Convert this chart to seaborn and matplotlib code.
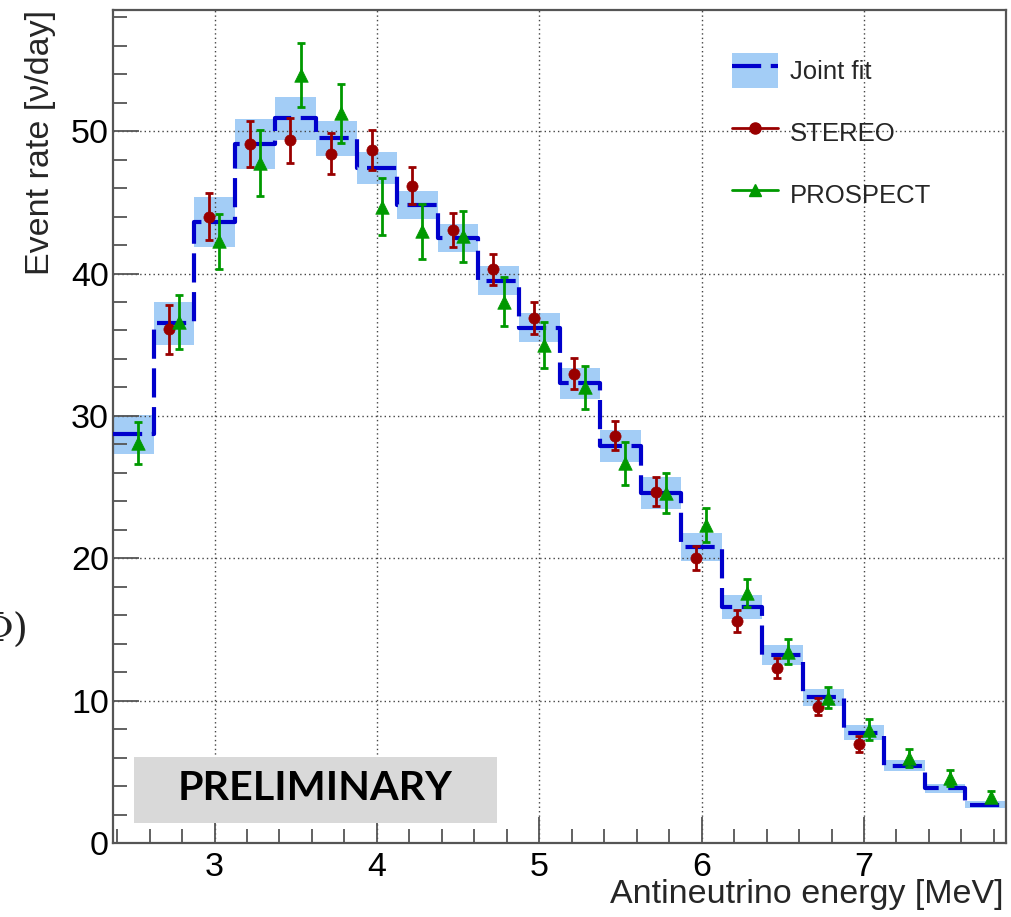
import numpy as np
import pandas as pd
import matplotlib
matplotlib.use("Agg")
import matplotlib.pyplot as plt
import seaborn as sns
from matplotlib.patches import Patch, Rectangle
from matplotlib.lines import Line2D
from matplotlib.ticker import MultipleLocator

# ---------------- data ----------------
bin_centers = [2.5, 2.75, 3.0, 3.25, 3.5, 3.75, 4.0, 4.25, 4.5, 4.75, 5.0,
               5.25, 5.5, 5.75, 6.0, 6.25, 6.5, 6.75, 7.0, 7.25, 7.5, 7.75]
bin_width = 0.25

fit_rate = [28.7, 36.5, 43.6, 49.1, 50.9, 49.5, 47.4, 44.8, 42.5, 39.5, 36.2,
            32.3, 27.9, 24.6, 20.8, 16.6, 13.2, 10.25, 7.77, 5.45, 3.86, 2.71]
fit_err = [1.4, 1.5, 1.75, 1.75, 1.5, 1.23, 1.1, 1.0, 1.0, 1.0, 1.0,
           1.1, 1.1, 1.1, 1.0, 0.85, 0.7, 0.6, 0.5, 0.4, 0.33, 0.25]

stereo_centers = [2.75, 3.0, 3.25, 3.5, 3.75, 4.0, 4.25, 4.5, 4.75, 5.0,
                  5.25, 5.5, 5.75, 6.0, 6.25, 6.5, 6.75, 7.0]
stereo_rate = [36.07, 44.0, 49.09, 49.34, 48.4, 48.69, 46.16, 43.07, 40.3, 36.87,
               32.96, 28.62, 24.69, 20.01, 15.61, 12.33, 9.6, 6.97]
stereo_err = [1.75, 1.64, 1.6, 1.55, 1.43, 1.4, 1.3, 1.2, 1.1, 1.1,
              1.1, 1.03, 1.0, 0.85, 0.78, 0.7, 0.6, 0.55]

prospect_centers = bin_centers
prospect_rate = [28.09, 36.6, 42.25, 47.75, 53.95, 51.26, 44.7, 42.95, 42.6, 38.03, 34.99,
                 32.02, 26.68, 24.62, 22.35, 17.56, 13.45, 10.23, 7.96, 5.97, 4.61, 3.27]
prospect_err = [1.47, 1.9, 1.93, 2.3, 2.25, 2.07, 2.0, 1.9, 1.8, 1.7, 1.6,
                1.5, 1.52, 1.4, 1.2, 1.0, 0.88, 0.73, 0.74, 0.62, 0.56, 0.4]

x_ticks = [3, 4, 5, 6, 7]
y_ticks = [0, 10, 20, 30, 40, 50]
labels = ["Joint fit", "STEREO", "PROSPECT"]

# ---------------- style ----------------
sns.set_theme(style="ticks")
plt.rcParams['font.family'] = ['Liberation Sans', 'DejaVu Sans']

BLUE = '#0000cc'
BAND = '#a3cdf6'
RED = '#990000'
GREEN = '#009900'

fig = plt.figure(figsize=(10.11, 9.17), dpi=100)
ax = fig.add_axes([0.1118, 0.0804, 0.8833, 0.9087])

centers = np.array(bin_centers)
fit = np.array(fit_rate)
ferr = np.array(fit_err)

# uncertainty band
ax.bar(centers, 2 * ferr, bottom=fit - ferr, width=bin_width,
       color=BAND, linewidth=0, zorder=1)

# step line of joint fit
edges = np.append(centers - bin_width / 2, centers[-1] + bin_width / 2)
step_y = np.append(fit, fit[-1])
df_fit = pd.DataFrame({"E": edges, "rate": step_y})
sns.lineplot(data=df_fit, x="E", y="rate", ax=ax, estimator=None, sort=False,
             drawstyle='steps-post', color=BLUE, linewidth=3.0, zorder=3)
ax.lines[-1].set_linestyle((0, (7, 2.3)))

# data points
st_x = np.array(stereo_centers) - 0.033
pr_x = np.array(prospect_centers) + 0.03
ax.errorbar(st_x, stereo_rate, yerr=stereo_err, fmt='none', ecolor=RED,
            elinewidth=2, capsize=3, capthick=2, zorder=4)
ax.errorbar(pr_x, prospect_rate, yerr=prospect_err, fmt='none', ecolor=GREEN,
            elinewidth=2, capsize=3, capthick=2, zorder=4)
sns.scatterplot(x=st_x, y=stereo_rate, ax=ax, color=RED, marker='o', s=65,
                edgecolor=RED, linewidth=0.5, zorder=5)
sns.scatterplot(x=pr_x, y=prospect_rate, ax=ax, color=GREEN, marker='^', s=95,
                edgecolor=GREEN, linewidth=0.5, zorder=5)

# axes
ax.set_xlim(2.375, 7.875)
ax.set_ylim(0, 58.5)
ax.set_xticks(x_ticks)
ax.set_yticks(y_ticks)
ax.xaxis.set_minor_locator(MultipleLocator(0.2))
ax.yaxis.set_minor_locator(MultipleLocator(2))
ax.tick_params(which='major', direction='in', length=19, width=1.3,
               labelsize=24.5, colors='#555555', labelcolor='black')
ax.tick_params(axis='x', which='major', pad=6)
ax.tick_params(axis='y', which='major', pad=3)
ax.tick_params(which='minor', direction='in', length=10, width=1.3, colors='#555555')
ax.tick_params(top=False, right=False, which='both')
for sp in ax.spines.values():
    sp.set_visible(True)
    sp.set_color('#555555')
    sp.set_linewidth(1.6)

ax.grid(True, which='major', linestyle=(0, (1, 2.2)), color='#444444', linewidth=1.0)
ax.set_axisbelow('line')

ax.set_xlabel("Antineutrino energy [MeV]", fontsize=24.5, loc='right')
ax.xaxis.set_label_coords(0.997, -0.0425)
ax.set_ylabel("Event rate [ν/day]", fontsize=24.5, loc='top')
ax.yaxis.set_label_coords(-0.064, 1.0)

# legend
band_handle = (Patch(facecolor=BAND, edgecolor='none'),
               Line2D([], [], color=BLUE, linewidth=3.0, linestyle=(0, (7, 2.3))))
st_handle = Line2D([], [], color=RED, linewidth=2, marker='o', markersize=8)
pr_handle = Line2D([], [], color=GREEN, linewidth=2, marker='^', markersize=9)
ax.legend([band_handle, st_handle, pr_handle], labels,
          loc='upper left', bbox_to_anchor=(0.693, 0.948), frameon=False,
          fontsize=18.5, handlelength=1.8, handleheight=1.7, labelspacing=1.06,
          handletextpad=0.45, borderpad=0, borderaxespad=0)

# PRELIMINARY box
ax.add_patch(Rectangle((2.507, 1.43), 2.231, 4.63, facecolor='#d9d9d9',
                       edgecolor='none', zorder=6))
ax.text(3.62, 3.85, "PRELIMINARY", ha='center', va='center', fontsize=29.7,
        fontweight='bold', family=['Lato', 'DejaVu Sans'], color='black', zorder=7)

# cropped slide remnant at left edge
fig.text(0.0285, 0.312, "Φ)", ha='right', va='center', fontsize=28,
         family=['DejaVu Serif'], color='#222222')

fig.savefig("out.png", dpi=100)
